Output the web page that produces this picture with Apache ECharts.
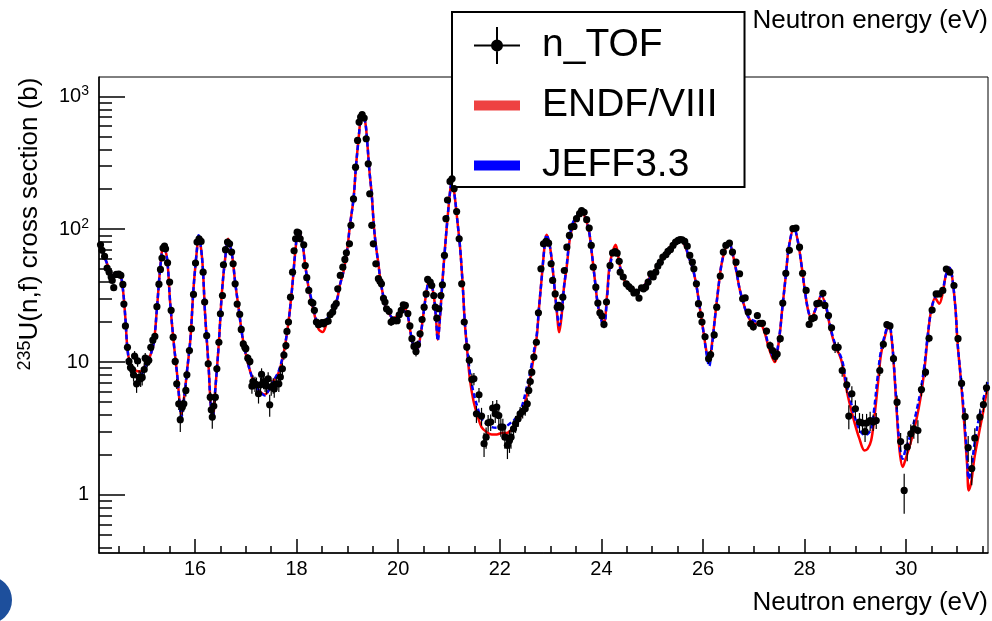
<!DOCTYPE html>
<html><head><meta charset="utf-8">
<script src="https://cdn.jsdelivr.net/npm/echarts@6/dist/echarts.min.js"></script>
<style>html,body{margin:0;padding:0;background:#fff}#c{width:992px;height:621px}</style>
</head><body><div id="c"></div>
<script>
// ---- axis ticks ----
const xMajorTicks = [16,18,20,22,24,26,28,30];
const xMinorTicks = [14.5,15,15.5,16.5,17,17.5,18.5,19,19.5,20.5,21,21.5,22.5,23,23.5,24.5,25,25.5,26.5,27,27.5,28.5,29,29.5,30.5,31,31.5];
const yMajorTicks = [1,10,100,1000];
const yMinorTicks = [0.4,0.5,0.6,0.7,0.8,0.9,2,3,4,5,6,7,8,9,20,30,40,50,60,70,80,90,200,300,400,500,600,700,800,900];

// ---- evaluated cross sections (ENDF/VIII, JEFF3.3) ----
const curveEnergy = [14.12,14.27,14.37,14.46,14.53,14.58,14.63,14.67,14.73,14.83,14.92,15.02,15.12,15.19,15.25,15.32,15.38,15.45,15.51,15.58,15.65,15.70,15.73,15.79,15.84,15.91,15.97,16.04,16.07,16.14,16.20,16.27,16.31,16.35,16.40,16.47,16.53,16.60,16.65,16.73,16.79,16.86,16.93,16.99,17.09,17.19,17.29,17.37,17.45,17.55,17.65,17.75,17.84,17.91,17.98,18.03,18.11,18.17,18.24,18.34,18.43,18.51,18.60,18.70,18.80,18.85,18.92,18.99,19.05,19.12,19.17,19.22,19.26,19.29,19.35,19.39,19.43,19.48,19.52,19.56,19.61,19.65,19.71,19.76,19.82,19.90,19.98,20.07,20.13,20.19,20.23,20.28,20.35,20.40,20.45,20.51,20.56,20.61,20.65,20.70,20.74,20.78,20.82,20.87,20.92,20.97,21.02,21.06,21.11,21.16,21.22,21.27,21.31,21.36,21.41,21.48,21.56,21.64,21.74,21.84,21.94,22.04,22.13,22.23,22.33,22.43,22.53,22.61,22.67,22.73,22.77,22.82,22.86,22.89,22.92,22.97,23.02,23.07,23.12,23.17,23.22,23.26,23.32,23.37,23.43,23.51,23.61,23.71,23.76,23.80,23.87,23.93,24.00,24.05,24.11,24.16,24.23,24.28,24.35,24.41,24.49,24.59,24.69,24.79,24.88,24.98,25.08,25.18,25.28,25.38,25.48,25.55,25.64,25.72,25.80,25.87,25.93,26.00,26.07,26.12,26.18,26.24,26.30,26.36,26.43,26.51,26.59,26.66,26.72,26.79,26.85,26.92,27.02,27.12,27.21,27.30,27.41,27.50,27.56,27.63,27.69,27.79,27.87,27.94,28.00,28.07,28.13,28.23,28.33,28.42,28.52,28.62,28.68,28.75,28.81,28.88,28.98,29.08,29.18,29.24,29.31,29.37,29.44,29.50,29.57,29.66,29.71,29.77,29.83,29.88,29.93,29.99,30.09,30.19,30.29,30.36,30.42,30.49,30.57,30.65,30.72,30.78,30.85,30.90,30.97,31.01,31.08,31.14,31.20,31.23,31.28,31.34,31.43,31.52,31.60];
const endfXS = [77.7,55.0,44.9,47.0,45.4,35.6,21.2,12.6,9.53,8.64,8.49,9.42,11.2,14.1,25.2,53.3,75.5,60,28.3,14.1,7.93,4.85,3.96,5.60,8.39,15.0,35.6,71.3,87.2,60,22.4,8.89,4.71,3.85,6.29,14.1,33.6,63.5,84.7,63.5,40.0,25.2,15.8,11.9,8.39,6.66,5.94,5.70,6.11,7.27,8.39,11.9,20.0,35.6,71.3,97.9,80,53.3,35.6,23.8,17.8,16.8,20.0,23.8,29.9,37.7,47.5,67.3,107,169,302,480,679,731,641,453,285,180,107,75.5,55.0,41.1,30.8,25.2,23.1,21.4,22.2,23.8,25.2,22.2,17.8,14.1,11.5,13.2,16.8,25.2,34.6,41.1,38.8,31.7,22.4,14.8,21.2,40.0,71.3,120,190,237,180,120,71.3,37.7,20.0,11.9,7.48,5.14,3.96,3.24,2.97,2.85,2.85,2.92,2.92,3.10,3.43,4.08,5.60,7.93,11.2,15.8,25.2,41.1,61.7,80,90.8,80,60,38.8,24.4,16.8,23.1,35.6,53.3,80,104,120,136,113,95,72,42,27,21.2,19.8,31.7,53.3,69.2,76.3,56.5,44.9,38.8,35.6,34.6,35.6,39.5,44.9,50.4,58.2,67.3,75.5,81.4,82.8,75.5,61.7,50.4,37.7,26.7,17.8,11.9,10.2,14.1,22.4,35.6,53.3,69.2,80,63.5,47.5,35.6,28.3,23.8,20.9,19.4,19.4,16.8,12.6,10.0,15.0,25.2,44.9,73.3,103,80,53.3,35.6,24.4,21.4,25.9,31.7,26.0,17.0,12.6,11.5,9.42,6.66,4.99,3.53,2.64,2.16,2.22,2.57,3.74,6.66,11.2,15.0,19.1,15.4,7.93,3.33,1.98,1.62,1.87,2.49,3.53,5.60,8.89,15.0,24.4,30.3,27.5,33.2,44.9,51.3,44.9,25.2,14.1,7.06,3.53,1.66,1.08,1.25,1.87,2.87,4.32,6.47];
const jeffXS = [77.7,55.0,44.9,47.0,45.4,35.6,21.2,12.6,9.3,7.93,7.93,9.2,11.2,14.1,25.2,53.3,75.5,60,28.3,14.1,7.93,4.75,3.85,5.60,8.39,15.0,35.6,72,90,60,22.4,8.89,4.71,3.85,6.29,14.1,33.6,63.5,83,63.5,40.0,25.2,15.8,11.9,8.39,6.66,5.94,5.60,6.11,7.27,8.6,12.2,20.0,35.6,71.3,97.9,80,53.3,36.5,25.0,19.0,19.6,21.2,24.5,30.0,37.7,47.5,67.3,107,169,302,480,679,731,641,453,285,180,107,75.5,55.0,41.1,30.8,25.2,23.1,21.4,22.2,23.8,24.0,22.2,17.8,14.1,11.5,13.2,16.8,25.2,34.6,41.1,38.8,31.7,22.4,14.5,21.2,40.0,71.3,120,190,237,180,120,71.3,37.7,20.5,12.5,8.4,5.94,4.58,3.74,3.43,3.24,3.20,3.24,3.30,3.53,3.84,4.58,6.45,8.9,12.0,16.5,25.2,41.1,61.7,80,90.8,80,60,38.8,25.0,18.9,24.0,35.6,55,83,110,125,138,113,95,72,42,27,20.5,18.4,30,50,66,69.6,55,44.9,38.8,35.6,34.6,35.6,39.0,44,49.5,58.2,67.3,75.5,81.4,84,77,61.7,50.4,37.7,26.7,17.8,11.5,9.31,13.6,22.4,35.6,53.3,69.2,80,63.5,47.5,35.6,28.3,23.8,21.2,20.3,19.8,17.4,13.0,10.7,15.5,25.2,44.9,73.3,103,80,53.3,35.6,24.4,21.4,25.9,31.7,26.5,17.5,13.0,11.8,9.9,7.27,5.60,3.96,3.10,2.83,2.87,3.14,4.45,7.93,12.0,15.5,19.6,15.8,8.2,3.6,2.2,1.87,2.22,2.87,4.08,6.29,9.6,15.5,24.4,30.8,33.6,35.6,45,51.3,44.9,25.2,14.1,7.3,3.96,1.87,1.32,1.53,2.36,3.74,5.28,7.06];

// ---- n_TOF measured points ----
const nTofEnergy = [
14.14,14.17,14.22,14.27,14.31,14.35,14.37,14.40,14.45,14.50,14.54,14.58,14.60,14.63,14.67,14.70,14.73,14.77,14.79,14.81,
14.85,14.87,14.90,14.93,14.96,15.00,15.02,15.06,15.09,15.13,15.17,15.21,15.25,15.29,15.32,15.35,15.37,15.40,15.42,15.46,
15.50,15.53,15.57,15.61,15.64,15.68,15.71,15.75,15.78,15.82,15.84,15.89,15.93,15.97,16.01,16.04,16.08,16.12,16.16,16.19,
16.23,16.26,16.30,16.32,16.34,16.37,16.40,16.43,16.47,16.50,16.54,16.56,16.60,16.64,16.68,16.72,16.75,16.79,16.83,16.88,
16.91,16.95,16.98,17.00,17.04,17.08,17.12,17.14,17.18,17.21,17.25,17.29,17.31,17.35,17.38,17.41,17.44,17.47,17.50,17.54,
17.56,17.60,17.65,17.68,17.72,17.75,17.79,17.81,17.84,17.88,17.92,17.95,17.98,18.01,18.04,18.07,18.14,18.17,18.20,18.24,
18.29,18.32,18.35,18.39,18.43,18.47,18.50,18.53,18.57,18.62,18.66,18.71,18.74,18.78,18.81,18.86,18.91,18.95,18.98,19.04,
19.07,19.12,19.16,19.20,19.23,19.26,19.29,19.33,19.37,19.41,19.44,19.48,19.51,19.56,19.61,19.64,19.67,19.71,19.74,19.77,
19.82,19.86,19.90,19.94,19.98,20.02,20.06,20.10,20.14,20.19,20.23,20.27,20.31,20.35,20.38,20.43,20.47,20.51,20.55,20.58,
20.63,20.66,20.70,20.73,20.76,20.80,20.84,20.87,20.91,20.94,20.97,21.02,21.06,21.10,21.15,21.20,21.25,21.30,21.35,21.40,
21.45,21.49,21.54,21.59,21.64,21.69,21.73,21.77,21.82,21.86,21.91,21.94,21.98,22.02,22.06,22.10,22.15,22.19,22.22,22.27,
22.31,22.36,22.40,22.45,22.50,22.54,22.57,22.60,22.63,22.67,22.72,22.76,22.81,22.86,22.91,22.96,23.01,23.04,23.09,23.13,
23.16,23.20,23.24,23.27,23.32,23.37,23.41,23.46,23.51,23.57,23.61,23.66,23.71,23.76,23.80,23.84,23.89,23.93,23.97,24.01,
24.05,24.10,24.17,24.22,24.27,24.31,24.35,24.37,24.43,24.49,24.54,24.59,24.64,24.69,24.74,24.79,24.83,24.87,24.92,24.97,
25.02,25.07,25.11,25.16,25.21,25.27,25.31,25.36,25.41,25.46,25.51,25.55,25.59,25.64,25.69,25.74,25.79,25.82,25.87,25.91,
25.95,25.98,26.04,26.11,26.15,26.22,26.27,26.34,26.40,26.45,26.52,26.58,26.65,26.72,26.78,26.83,26.89,26.94,26.99,27.07,
27.12,27.17,27.25,27.32,27.37,27.42,27.46,27.52,27.57,27.63,27.70,27.77,27.83,27.90,27.96,28.03,28.09,28.14,28.19,28.24,
28.29,28.36,28.40,28.47,28.53,28.60,28.66,28.74,28.83,28.87,28.93,29.00,29.08,29.14,29.19,29.22,29.29,29.35,29.41,29.48,
29.55,29.62,29.68,29.75,29.82,29.89,29.96,30.02,30.09,30.15,30.23,30.30,30.38,30.45,30.51,30.59,30.65,30.72,30.79,30.86,
30.94,31.02,31.09,31.16,31.22,31.29,31.35,31.45,31.52,31.58];
const nTofXS = [
76.3,69.4,62.4,50.9,47.5,43.7,41.2,36.3,45.7,45.9,44.9,38.4,27.3,18.7,12.9,10.1,9.08,8.79,8.02,11.1,
6.86,10.2,7.66,7.48,7.66,8.79,10.7,10.0,10.3,12.9,14.6,15.6,26.1,38.6,49.8,60.7,72.1,74.6,71.3,55.9,
40.0,24.5,15.4,10.1,6.86,4.85,3.68,4.58,4.85,6.11,8.02,12.2,17.8,32.3,55.6,80.0,84.7,80.9,47.5,28.3,
15.8,9.71,5.44,4.37,3.85,4.66,5.44,8.89,14.1,23.1,31.7,54.0,70.1,80,77.7,67.3,54.9,38.8,27.3,22.9,
17.6,13.7,12.9,12.6,10.7,10.1,6.58,7.14,6.86,6.74,5.77,6.74,8.07,7.14,6.86,6.62,7.48,4.77,6.47,6.66,
6.29,6.86,6.86,7.70,8.89,11.3,13.3,17.0,20.0,30.8,47.5,68.8,84.7,95.1,94.0,84.7,76.3,53.3,43.2,34.6,
28.3,27.8,24.5,20.0,19.1,19.4,19.8,19.4,20.0,20.3,22.7,23.8,26.2,27.6,35.6,44.9,51.8,59.2,66.5,77.7,
107,169,293,466,641,700,728,688,480,311,185,107,77.7,54.9,42.4,40.5,38.8,30.2,28.3,25.2,
24.1,20.0,20.7,20.5,20.5,22.7,24.5,27.0,26.7,23.2,18.7,15.0,13.1,12.0,13.5,16.3,20.9,25.9,32.6,41.9,
40.0,37.7,31.7,25.9,21.4,25.2,31.7,38.2,63.5,120,166,229,240,202,136,84.7,38.8,20.0,13.0,10.3,
7.39,7.48,4.08,5.67,3.92,2.43,2.72,3.49,3.53,4.50,4.08,4.58,3.96,3.24,3.24,2.72,2.36,2.57,2.72,3.14,
3.43,3.74,4.08,4.25,4.45,4.85,6.11,7.14,8.39,10.9,14.1,23.5,50.4,77.7,80.9,78.5,54.9,41.2,32.6,25.9,
26.7,25.9,30.8,48.9,73.3,89.8,104,105,120,131,138,134,118,102,75.5,51.8,36.6,27.8,23.5,22.2,
19.2,28.3,53.3,66.3,67.9,66.0,57.3,47.5,43.7,38.8,37.0,35.6,33.1,33.6,30.3,36.2,35.6,36.6,40.0,46.2,
43.7,47.5,52.7,56.5,61.7,64.3,68.1,70.5,75.5,80.0,82.3,83.7,83.3,80.9,74.6,63.5,56.5,50.4,38.8,27.5,
22.7,20.0,15.5,10.6,11.4,16.0,25.9,44.4,67.3,75.5,78.5,67.3,56.5,46.2,29.9,30.4,23.8,19.4,18.4,22.4,
19.6,19.6,17.1,13.3,12.2,11.0,11.5,15.0,27.8,46.6,69.4,101,102,73.3,46.6,34.6,19.2,21.2,21.6,27.5,
27.8,32.9,26.7,22.4,18.1,12.9,12.9,8.64,6.74,3.92,5.77,4.45,3.53,3.47,3.00,3.47,3.63,3.53,3.63,8.64,
13.6,19.1,18.7,10.6,4.99,2.52,1.08,2.29,2.88,3.14,3.05,6.21,8.39,15.1,24.6,32.6,32.6,34.6,50.1,47.5,
37.7,15.0,6.90,3.88,2.27,1.58,2.67,3.85,4.79,6.40];
const nTofErr = [
2,2,2,1.5,1.5,1.5,1.5,1.5,1.5,1.5,1.5,1.5,1.2,1,0.8,0.8,0.8,0.9,0.9,1,
1,1,1,1,1,1,1,0.9,0.9,0.9,0.9,0.9,1,1.2,1.5,2,2,2,2,1.5,
1.2,1,0.8,0.7,0.6,0.5,0.7,0.6,0.6,0.6,0.6,0.7,0.8,1.2,1.5,2,2,2,1.5,1,
0.8,0.6,0.5,0.5,0.7,0.6,0.5,0.6,0.7,0.9,1,1.5,2,2,2,2,1.5,1.2,1,0.9,
0.8,0.8,0.8,0.8,0.8,0.8,0.8,0.8,0.9,0.9,0.9,0.9,0.9,0.9,0.9,0.9,0.9,0.9,0.9,0.9,
0.9,0.9,0.9,0.9,0.9,0.9,0.9,1,1,1.2,1.5,2,2,2.5,2.5,2,2,1.5,1.5,1.2,
1.2,1.2,1.2,1.1,1.1,1.1,1.1,1.1,1.1,1.1,1.1,1.1,1.1,1.2,1.2,1.5,1.5,1.5,2,2,
3,4,7,10,13,14,15,14,10,7,4,3,2,1.5,1.5,1.5,1.5,1.2,1.2,1.2,
1.2,1.2,1.2,1.2,1.2,1.2,1.2,1.3,1.3,1.2,1.1,1,1,1,1,1,1.1,1.2,1.3,1.5,
1.5,1.5,1.3,1.2,1.2,1.2,1.3,1.5,2,3,4,5,5,5,3,2,1.5,1,0.9,0.9,
0.8,0.8,0.6,0.7,0.6,0.5,0.5,0.5,0.5,0.6,0.6,0.6,0.6,0.5,0.5,0.5,0.5,0.5,0.5,0.5,
0.5,0.5,0.5,0.5,0.5,0.5,0.6,0.6,0.6,0.7,0.8,1,1.5,2,2,2,1.5,1.5,1.3,1.2,
1.2,1.2,1.3,1.5,2,2.5,3,3,3,3,3,3,3,3,2,1.5,1.3,1.2,1.2,1.2,
1.2,1.2,1.5,2,2,2,1.5,1.5,1.5,1.5,1.5,1.5,1.5,1.5,1.5,1.5,1.5,1.5,1.5,1.5,
1.5,1.5,1.5,1.5,2,2,2,2,2,2,2,2,2,2,2,2,1.5,1.5,1.5,1.2,
1.2,1.1,1,0.9,0.9,1,1.2,1.5,2,2,2,2,1.5,1.5,1.2,1.2,1.2,1.1,1.1,1.2,
1.1,1.1,1,1,1,1,1,1,1.2,1.5,2,3,3,2,1.5,1.5,1.1,1.1,1.1,1.2,
1.2,1.3,1.2,1.2,1.1,1.2,1.2,0.9,0.9,0.8,0.8,0.7,0.6,0.6,0.5,0.6,0.6,0.5,0.5,0.8,
1,1.1,1.1,0.9,0.6,0.4,0.36,0.5,0.5,0.5,0.6,0.7,0.7,1,1.2,1.3,1.3,1.4,1.5,1.5,
1.5,1,0.7,0.6,0.5,0.4,0.5,0.6,0.6,0.7];

const FONT = 'Liberation Sans, Arial, Helvetica, sans-serif';
const chart = echarts.init(document.getElementById('c'), null, {renderer: 'canvas'});

const crossIcon = 'path://M0,17.5L46,17.5L46,19.5L0,19.5Z M22,0L24,0L24,37L22,37Z M17,18.5A6,6 0 1 1 29,18.5A6,6 0 1 1 17,18.5Z';
const barIcon = 'path://M0,0M46,37M0,13.5L46,13.5L46,23.5L0,23.5Z';

function supLabel(v) {
  if (v === 1) return '{b|1}';
  if (v === 10) return '{b|10}';
  const p = Math.round(Math.log10(v));
  return '{b|10}{s|' + p + '}';
}

const option = {
  animation: false,
  backgroundColor: '#ffffff',
  grid: { left: 99, right: 4, top: 77, bottom: 68, show: true, borderColor: '#000', borderWidth: 1, backgroundColor: '#fff', containLabel: false },
  legend: {
    orient: 'vertical', left: 452, top: 12,
    padding: [14, 27, 2, 22],
    itemWidth: 46, itemHeight: 37, itemGap: 21,
    backgroundColor: '#fff', borderColor: '#000', borderWidth: 2,
    selectedMode: false,
    itemStyle: { borderWidth: 0 },
    textStyle: { fontSize: 39, color: '#000', fontFamily: FONT, padding: [0, 0, 0, 17] },
    data: [
      { name: 'n_TOF', icon: crossIcon, itemStyle: { color: '#000' } },
      { name: 'ENDF/VIII', icon: barIcon, itemStyle: { color: '#ee4242' } },
      { name: 'JEFF3.3', icon: barIcon, itemStyle: { color: '#0000ff' } }
    ]
  },
  xAxis: [
    {
      type: 'value', min: 14.11, max: 31.61, position: 'bottom',
      name: 'Neutron energy (eV)', nameLocation: 'end', nameGap: 0,
      nameTextStyle: { fontSize: 26, color: '#000', fontFamily: FONT, align: 'right', verticalAlign: 'top', padding: [37, 0, 0, 0] },
      axisLine: { show: true, lineStyle: { color: '#000', width: 1.5 } },
      axisTick: { show: true, inside: true, length: 14, customValues: xMajorTicks, lineStyle: { color: '#000', width: 1.5 } },
      axisLabel: { show: true, customValues: xMajorTicks, fontSize: 20, color: '#000', fontFamily: FONT, margin: 6 },
      splitLine: { show: false }
    },
    {
      type: 'value', min: 14.11, max: 31.61, position: 'bottom',
      axisLine: { show: false },
      axisTick: { show: true, inside: true, length: 7, customValues: xMinorTicks, lineStyle: { color: '#000', width: 1.5 } },
      axisLabel: { show: false },
      splitLine: { show: false }
    }
  ],
  yAxis: [
    {
      type: 'log', logBase: 10, min: 0.365, max: 1400, position: 'left',
      name: '{s|235}{m|U(n,f) cross section (b)}', nameLocation: 'middle', nameGap: 55, nameRotate: 90,
      nameTextStyle: { color: '#000', fontFamily: FONT, padding: [0, 0, 0, 182],
        rich: { s: { fontSize: 18, fontFamily: FONT, color: '#000', padding: [0, 0, 10, 0] }, m: { fontSize: 26, fontFamily: FONT, color: '#000' } } },
      axisLine: { show: true, lineStyle: { color: '#000', width: 1.5 } },
      axisTick: { show: true, inside: true, length: 26, customValues: yMajorTicks, lineStyle: { color: '#000', width: 1.5 } },
      axisLabel: { show: true, customValues: yMajorTicks, margin: 10, formatter: supLabel,
        rich: { b: { fontSize: 20, fontFamily: FONT, color: '#000' }, s: { fontSize: 14, fontFamily: FONT, color: '#000', padding: [0, 0, 10, 0] } } },
      splitLine: { show: false }
    },
    {
      type: 'log', logBase: 10, min: 0.365, max: 1400, position: 'left',
      axisLine: { show: false },
      axisTick: { show: true, inside: true, length: 13, customValues: yMinorTicks, lineStyle: { color: '#000', width: 1.5 } },
      axisLabel: { show: false },
      splitLine: { show: false }
    }
  ],
  graphic: [
    { type: 'text', right: 4, top: 8, z: 100,
      style: { text: 'Neutron energy (eV)', fontSize: 26, fontFamily: FONT, fill: '#000' } },
    { type: 'circle', left: -36, top: 576, z: 100,
      shape: { r: 24 }, style: { fill: '#1d4f9c' } }
  ],
  series: [
    {
      name: 'ENDF/VIII', type: 'line', xAxisIndex: 0, yAxisIndex: 0,
      data: curveEnergy.map((e, i) => [e, endfXS[i]]),
      showSymbol: false, smooth: 0.35, z: 2,
      lineStyle: { color: '#ff0000', width: 2.5 }, itemStyle: { color: '#ff0000' }
    },
    {
      name: 'JEFF3.3', type: 'line', xAxisIndex: 0, yAxisIndex: 0,
      data: curveEnergy.map((e, i) => [e, jeffXS[i]]),
      showSymbol: false, smooth: 0.35, z: 3,
      lineStyle: { color: '#0000ff', width: 2.5, type: [5, 3] }, itemStyle: { color: '#0000ff' }
    },
    {
      name: 'n_TOF', type: 'custom', xAxisIndex: 0, yAxisIndex: 0, z: 4,
      data: nTofEnergy.map((e, i) => [e, nTofXS[i], nTofErr[i]]),
      encode: { x: 0, y: 1 },
      itemStyle: { color: '#000' },
      renderItem: function (params, api) {
        const x = api.value(0), y = api.value(1), err = api.value(2);
        const p = api.coord([x, y]);
        const lo = api.coord([x, Math.max(y - err, 0.05)]);
        const hi = api.coord([x, y + err]);
        return { type: 'group', children: [
          { type: 'line', shape: { x1: p[0], y1: lo[1], x2: p[0], y2: hi[1] }, style: { stroke: '#000', lineWidth: 1.2 } },
          { type: 'circle', shape: { cx: p[0], cy: p[1], r: 3.6 }, style: { fill: '#000' } }
        ] };
      }
    }
  ]
};
chart.setOption(option);
</script></body></html>
